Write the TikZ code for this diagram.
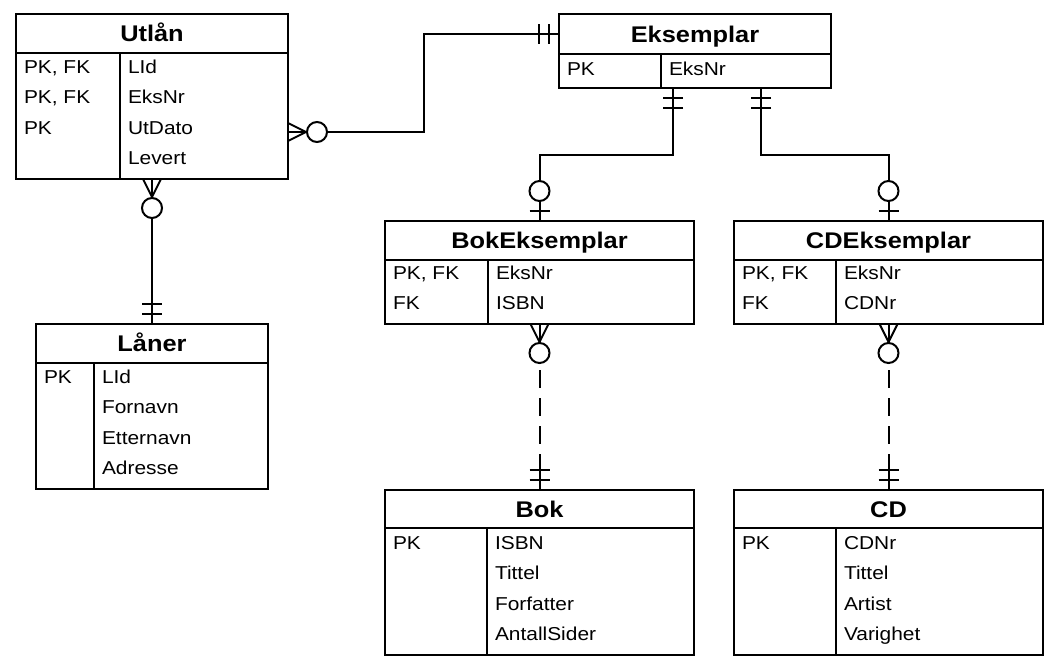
\documentclass[tikz,border=0pt]{standalone}
\usepackage{fontspec}
\setmainfont{Liberation Sans}[FakeStretch=1.12]
\usetikzlibrary{calc}
\usetikzlibrary{positioning}

\newcommand{\titlefont}{\fontsize{17pt}{20pt}\selectfont\bfseries}
\newcommand{\rowfont}{\fontsize{14pt}{17pt}\selectfont}

\tikzset{
  entityhead/.style={draw, rectangle, anchor=north west, inner sep=0pt, outer sep=0pt,
    minimum height=29.25pt, font=\titlefont, text height=12.2pt, text depth=0pt},
  entitybody/.style={draw, rectangle, inner sep=0pt, outer sep=0pt},
  keytext/.style={anchor=west, inner sep=0pt, font=\rowfont, text height=10pt, text depth=0pt},
  dashline/.style={dash pattern=on 13.5pt off 7.5pt, shorten <=34.5pt, shorten >=15pt},
  pics/manyzero/.style={code={
      \draw (0,-9) -- (18,0) -- (0,9);
      \draw (0,0) -- (19,0);
      \draw[fill=white] (29,0) circle[radius=10];
  }},
  pics/onlyone/.style={code={
      \draw (0,0) -- (20,0);
      \draw (10,-10) -- (10,10);
      \draw (20,-10) -- (20,10);
  }},
  pics/zeroone/.style={code={
      \draw (0,0) -- (20,0);
      \draw (10,-10) -- (10,10);
      \draw[fill=white] (30,0) circle[radius=10];
  }},
}

\begin{document}
\begin{tikzpicture}[x=0.75pt,y=-0.75pt,line width=1.5pt]
      \useasboundingbox[fill=white] (0,0) rectangle (1057,667);

      % Utlan
      \node[entityhead, minimum width=204pt] (utlan) at (16,14) {Utlån};
      \node[entitybody, below=0pt of utlan, minimum width=204pt, minimum height=94.5pt] (utlanbody) {};
      \draw ($(utlanbody.north west)+(104,0)$) -- ($(utlanbody.south west)+(104,0)$);
      \foreach \k/\v [count=\i] in {{PK, FK}/LId, {PK, FK}/EksNr, PK/UtDato, /Levert}
      {
        \node[keytext] (utlan-k\i) at ($(utlanbody.north west)+(7,{14+30.3*(\i-1)})$) {\k};
        \node[keytext] (utlan-v\i) at ($(utlanbody.north west)+(111,{14+30.3*(\i-1)})$) {\v};
      }

      % Eksemplar
      \node[entityhead, minimum width=204pt, minimum height=30pt] (eks) at (559,14) {Eksemplar};
      \node[entitybody, below=0pt of eks, minimum width=204pt, minimum height=25.5pt] (eksbody) {};
      \draw ($(eksbody.north west)+(102,0)$) -- ($(eksbody.south west)+(102,0)$);
      \node[keytext] (eks-k1) at ($(eksbody.north west)+(7,14.5)$) {PK};
      \node[keytext] (eks-v1) at ($(eksbody.north west)+(109,14.5)$) {EksNr};

      % BokEksemplar
      \node[entityhead, minimum width=231.75pt] (bokeks) at (385,221) {BokEksemplar};
      \node[entitybody, below=0pt of bokeks, minimum width=231.75pt, minimum height=48pt] (bokeksbody) {};
      \draw ($(bokeksbody.north west)+(103,0)$) -- ($(bokeksbody.south west)+(103,0)$);
      \foreach \k/\v [count=\i] in {{PK, FK}/EksNr, FK/ISBN}
      {
        \node[keytext] (bokeks-k\i) at ($(bokeksbody.north west)+(7,{13+30.3*(\i-1)})$) {\k};
        \node[keytext] (bokeks-v\i) at ($(bokeksbody.north west)+(110,{13+30.3*(\i-1)})$) {\v};
      }

      % CDEksemplar
      \node[entityhead, minimum width=231.75pt] (cdeks) at (734,221) {CDEksemplar};
      \node[entitybody, below=0pt of cdeks, minimum width=231.75pt, minimum height=48pt] (cdeksbody) {};
      \draw ($(cdeksbody.north west)+(102,0)$) -- ($(cdeksbody.south west)+(102,0)$);
      \foreach \k/\v [count=\i] in {{PK, FK}/EksNr, FK/CDNr}
      {
        \node[keytext] (cdeks-k\i) at ($(cdeksbody.north west)+(7,{13+30.3*(\i-1)})$) {\k};
        \node[keytext] (cdeks-v\i) at ($(cdeksbody.north west)+(109,{13+30.3*(\i-1)})$) {\v};
      }

      % Laner
      \node[entityhead, minimum width=174pt] (laner) at (36,324) {Låner};
      \node[entitybody, below=0pt of laner, minimum width=174pt, minimum height=94.5pt] (lanerbody) {};
      \draw ($(lanerbody.north west)+(58,0)$) -- ($(lanerbody.south west)+(58,0)$);
      \foreach \k/\v [count=\i] in {PK/LId, /Fornavn, /Etternavn, /Adresse}
      {
        \node[keytext] (laner-k\i) at ($(lanerbody.north west)+(7,{14+30.3*(\i-1)})$) {\k};
        \node[keytext] (laner-v\i) at ($(lanerbody.north west)+(65,{14+30.3*(\i-1)})$) {\v};
      }

      % Bok
      \node[entityhead, minimum width=231.75pt, minimum height=28.5pt] (bok) at (385,490) {Bok};
      \node[entitybody, below=0pt of bok, minimum width=231.75pt, minimum height=95.25pt] (bokbody) {};
      \draw ($(bokbody.north west)+(102,0)$) -- ($(bokbody.south west)+(102,0)$);
      \foreach \k/\v [count=\i] in {PK/ISBN, /Tittel, /Forfatter, /AntallSider}
      {
        \node[keytext] (bok-k\i) at ($(bokbody.north west)+(7,{15+30.3*(\i-1)})$) {\k};
        \node[keytext] (bok-v\i) at ($(bokbody.north west)+(109,{15+30.3*(\i-1)})$) {\v};
      }

      % CD
      \node[entityhead, minimum width=231.75pt, minimum height=28.5pt] (cd) at (734,490) {CD};
      \node[entitybody, below=0pt of cd, minimum width=231.75pt, minimum height=95.25pt] (cdbody) {};
      \draw ($(cdbody.north west)+(102,0)$) -- ($(cdbody.south west)+(102,0)$);
      \foreach \k/\v [count=\i] in {PK/CDNr, /Tittel, /Artist, /Varighet}
      {
        \node[keytext] (cd-k\i) at ($(cdbody.north west)+(7,{15+30.3*(\i-1)})$) {\k};
        \node[keytext] (cd-v\i) at ($(cdbody.north west)+(109,{15+30.3*(\i-1)})$) {\v};
      }

      % Relations
      \coordinate (utlanout) at ($(utlanbody.east)+(0,16)$);
      \coordinate (eksbok) at ($(eksbody.south west)+(114,0)$);
      \coordinate (ekscd) at ($(eksbody.south west)+(202,0)$);

      \draw (utlanout) -| ($(utlanout)!.5!(eks.west)$) |- (eks.west);
      \draw (utlanbody.south) -- (laner.north);
      \draw (eksbok) |- ($(eksbok)!.5!(bokeks.north)$) -| (bokeks.north);
      \draw (ekscd) |- ($(ekscd)!.5!(cdeks.north)$) -| (cdeks.north);
      \draw[dashline] (bokeksbody.south) -- (bok.north);
      \draw[dashline] (cdeksbody.south) -- (cd.north);

      % Ends
      \pic at (utlanout) {manyzero};
      \pic[rotate=180] at (eks.west) {onlyone};
      \pic[rotate=-90] at (utlanbody.south) {manyzero};
      \pic[rotate=90] at (laner.north) {onlyone};
      \pic[rotate=-90] at (eksbok) {onlyone};
      \pic[rotate=-90] at (ekscd) {onlyone};
      \pic[rotate=90] at (bokeks.north) {zeroone};
      \pic[rotate=90] at (cdeks.north) {zeroone};
      \pic[rotate=-90] at (bokeksbody.south) {manyzero};
      \pic[rotate=-90] at (cdeksbody.south) {manyzero};
      \pic[rotate=90] at (bok.north) {onlyone};
      \pic[rotate=90] at (cd.north) {onlyone};
  \end{tikzpicture}
\end{document}
